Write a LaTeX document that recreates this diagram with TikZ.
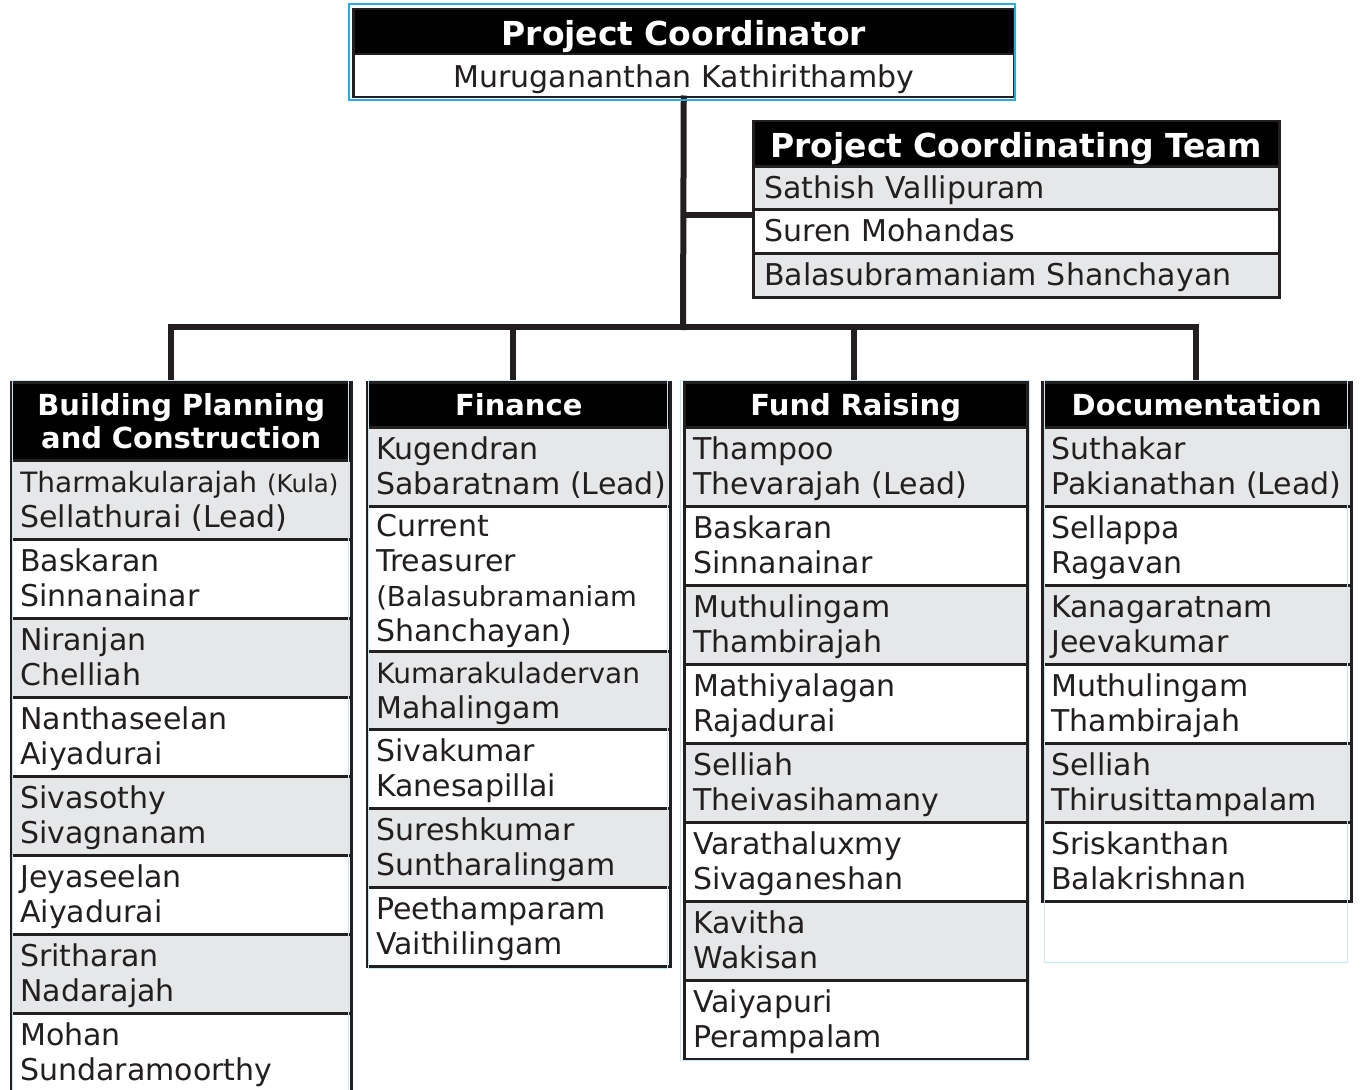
\documentclass[tikz,border=0pt]{standalone}
\usepackage{fontspec}
\setmainfont{DejaVu Sans}
\definecolor{ink}{HTML}{231F20}
\definecolor{rowgray}{HTML}{E6E7E8}
\definecolor{frameblue}{HTML}{29ABE2}
\definecolor{paleblue}{HTML}{C4E6F7}
\begin{document}
\begin{tikzpicture}[x=1pt,y=-1pt,
  cell/.style={draw=ink, line width=2.5pt, anchor=north west, inner xsep=9pt, inner ysep=0pt,
    align=left, text=ink, text height=26pt, text depth=40pt, font=\fontsize{30}{35}\selectfont},
  oneline/.style={text height=26pt, text depth=5pt},
  gcell/.style={cell, fill=rowgray},
  wcell/.style={cell, fill=white},
  hdr/.style={draw=ink, line width=2.5pt, fill=black, text=white, anchor=north west,
    align=center, inner xsep=0pt, inner ysep=0pt, text height=24pt, text depth=3pt,
    font=\bfseries\fontsize{29}{33}\selectfont},
  bighdr/.style={hdr, text height=27pt, text depth=0pt, font=\bfseries\fontsize{33}{38}\selectfont},
  colA/.style={text width=322pt},
  colB/.style={text width=285pt},
  colC/.style={text width=325pt},
  colD/.style={text width=291pt},
  conn/.style={draw=ink, line width=6pt, line cap=rect},
  ]
\clip (0,0) rectangle (1364,1089);
\fill[white] (0,0) rectangle (1364,1089);

% Project coordinator
\node[bighdr, text width=661pt, minimum height=45pt] (pc1) at (352,8) {Project Coordinator};
\node[wcell, align=center, text width=643pt, minimum height=43pt, text height=27pt, text depth=4pt] (pc2) at (352,53) {Murugananthan Kathirithamby};

% Project coordinating team
\node[bighdr, text width=526pt, minimum height=45pt] (pct1) at (752,120) {Project Coordinating Team};
\node[gcell, oneline, inner xsep=11pt, text width=504pt, minimum height=43pt] (pct2) at (752,165) {Sathish~Vallipuram};
\node[wcell, oneline, inner xsep=11pt, text width=504pt, minimum height=44pt] (pct3) at (752,208) {Suren~Mohandas};
\node[gcell, oneline, inner xsep=11pt, text width=504pt, minimum height=44pt] (pct4) at (752,252) {Balasubramaniam~Shanchayan};

% Column 1
\node[hdr, text width=340pt, minimum height=78pt, text depth=36pt] (h1) at (10,381) {Building Planning\\and Construction};
\node[gcell, colA, minimum height=79pt] (a1) at (10,459) {{\fontsize{28}{35}\selectfont Tharmakularajah}~{\fontsize{24.5}{35}\selectfont(Kula)}\\Sellathurai~(Lead)};
\node[wcell, colA, minimum height=79pt] (a2) at (10,538) {Baskaran\\Sinnanainar};
\node[gcell, colA, minimum height=79pt] (a3) at (10,617) {Niranjan\\Chelliah};
\node[wcell, colA, minimum height=79pt] (a4) at (10,696) {Nanthaseelan\\Aiyadurai};
\node[gcell, colA, minimum height=79pt] (a5) at (10,775) {Sivasothy\\Sivagnanam};
\node[wcell, colA, minimum height=79pt] (a6) at (10,854) {Jeyaseelan\\Aiyadurai};
\node[gcell, colA, minimum height=79pt] (a7) at (10,933) {Sritharan\\Nadarajah};
\node[wcell, colA, minimum height=79pt] (a8) at (10,1012) {Mohan\\Sundaramoorthy};

% Column 2
\node[hdr, text width=303pt, minimum height=45pt] (h2) at (366,381) {Finance};
\node[gcell, colB, minimum height=79pt] (b1) at (366,426) {Kugendran\\Sabaratnam~(Lead)};
\node[wcell, colB, minimum height=145pt, text depth=110pt] (b2) at (366,505) {Current\\Treasurer\\{\fontsize{27.5}{35}\selectfont(Balasubramaniam}\\Shanchayan)};
\node[gcell, colB, minimum height=78pt] (b3) at (366,650) {{\fontsize{28}{35}\selectfont Kumarakuladervan}\\Mahalingam};
\node[wcell, colB, minimum height=79pt] (b4) at (366,728) {Sivakumar\\Kanesapillai};
\node[gcell, colB, minimum height=79pt] (b5) at (366,807) {Sureshkumar\\Suntharalingam};
\node[wcell, colB, minimum height=79pt] (b6) at (366,886) {Peethamparam\\Vaithilingam};

% Column 3
\node[hdr, text width=343pt, minimum height=45pt] (h3) at (683,381) {Fund Raising};
\node[gcell, colC, minimum height=79pt] (c1) at (683,426) {Thampoo\\Thevarajah~(Lead)};
\node[wcell, colC, minimum height=79pt] (c2) at (683,505) {Baskaran\\Sinnanainar};
\node[gcell, colC, minimum height=79pt] (c3) at (683,584) {Muthulingam\\Thambirajah};
\node[wcell, colC, minimum height=79pt] (c4) at (683,663) {Mathiyalagan\\Rajadurai};
\node[gcell, colC, minimum height=79pt] (c5) at (683,742) {Selliah\\Theivasihamany};
\node[wcell, colC, minimum height=79pt] (c6) at (683,821) {Varathaluxmy\\Sivaganeshan};
\node[gcell, colC, minimum height=79pt] (c7) at (683,900) {Kavitha\\Wakisan};
\node[wcell, colC, minimum height=79pt] (c8) at (683,979) {Vaiyapuri\\Perampalam};

% Column 4
\node[hdr, text width=309pt, minimum height=45pt] (h4) at (1041,381) {Documentation};
\node[gcell, colD, minimum height=79pt] (d1) at (1041,426) {Suthakar\\Pakianathan~(Lead)};
\node[wcell, colD, minimum height=79pt] (d2) at (1041,505) {Sellappa\\Ragavan};
\node[gcell, colD, minimum height=79pt] (d3) at (1041,584) {Kanagaratnam\\Jeevakumar};
\node[wcell, colD, minimum height=79pt] (d4) at (1041,663) {Muthulingam\\Thambirajah};
\node[gcell, colD, minimum height=79pt] (d5) at (1041,742) {Selliah\\Thirusittampalam};
\node[wcell, colD, minimum height=79pt] (d6) at (1041,821) {Sriskanthan\\Balakrishnan};

% Connectors
\coordinate (jn) at (683,327);
\coordinate (tb) at (683,215);
\coordinate (k1) at (171,327);
\coordinate (k2) at (513,327);
\coordinate (k3) at (854,327);
\coordinate (k4) at (1196,327);
\draw[conn] (pc2.south) -- (jn);
\draw[conn, line cap=butt] (tb) -- (pct3.west |- tb);
\draw[conn] (k1) -- (k4);
\draw[conn, line cap=butt] (k1) -- (k1 |- h1.north);
\draw[conn, line cap=butt] (k2) -- (k2 |- h2.north);
\draw[conn, line cap=butt] (k3) -- (k3 |- h3.north);
\draw[conn, line cap=butt] (k4) -- (k4 |- h4.north);

% thin frames
\draw[frameblue, line width=1.5pt] (349,4) rectangle (1015,100);
\draw[paleblue, line width=1pt] (12,380) rectangle (348,1095);
\draw[paleblue, line width=1pt] (368,380) rectangle (667,968);
\draw[paleblue, line width=1pt] (680,380) rectangle (1029,1060);
\draw[paleblue, line width=1pt] (1044,380) rectangle (1347,962);
\end{tikzpicture}
\end{document}
